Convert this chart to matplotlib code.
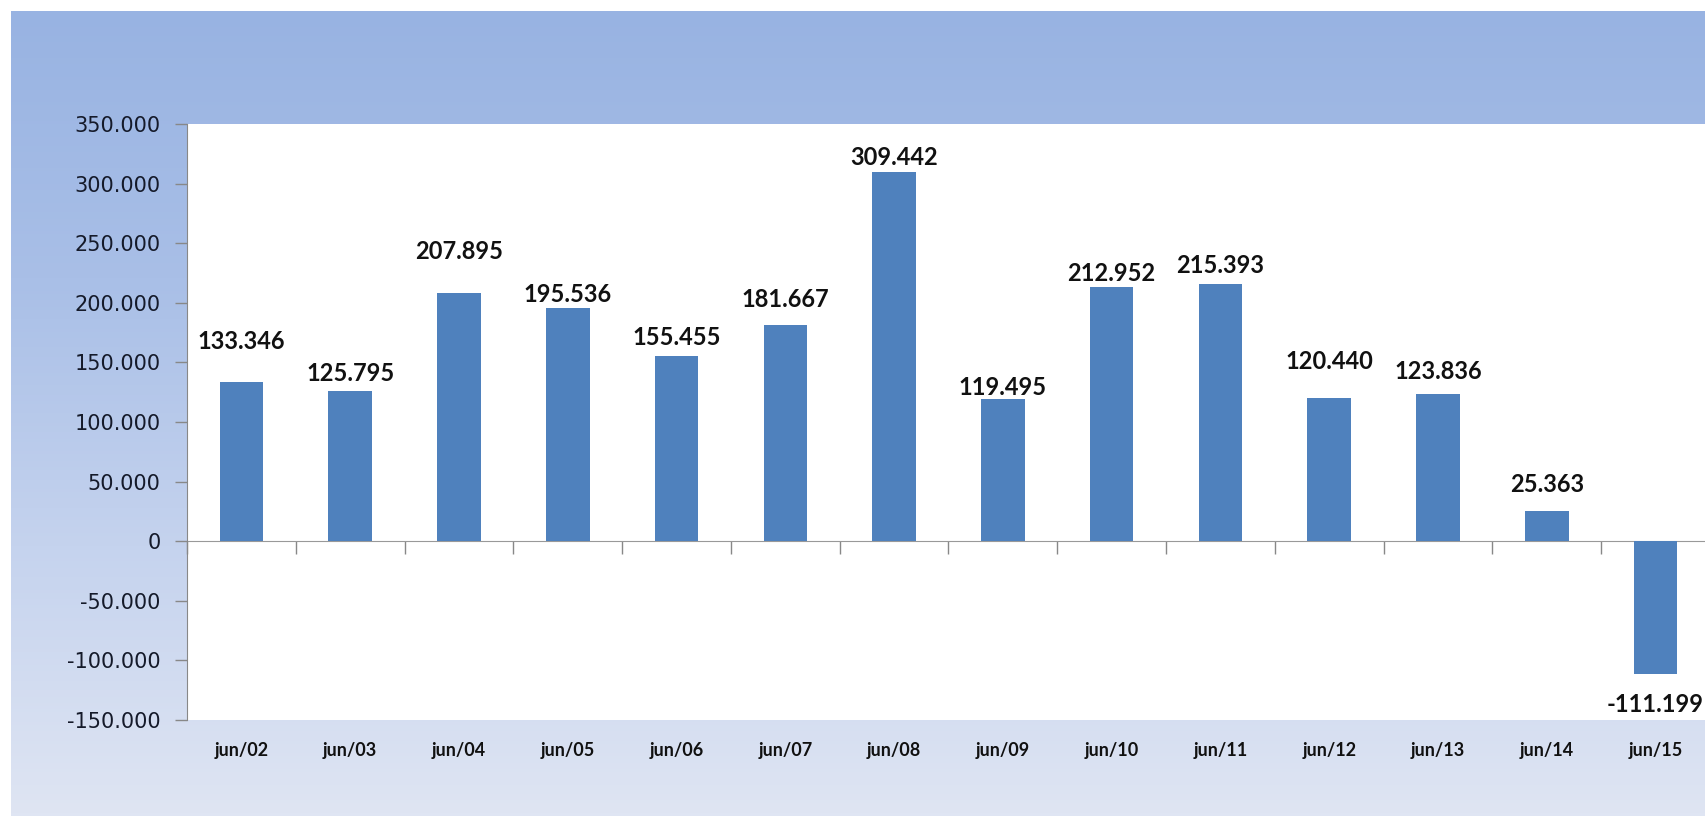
import numpy as np
import matplotlib
matplotlib.use('Agg')
import matplotlib.pyplot as plt
from matplotlib.colors import LinearSegmentedColormap
from matplotlib.ticker import FuncFormatter

# Data
months = ['jun/02', 'jun/03', 'jun/04', 'jun/05', 'jun/06', 'jun/07', 'jun/08',
          'jun/09', 'jun/10', 'jun/11', 'jun/12', 'jun/13', 'jun/14', 'jun/15']
values = [133346, 125795, 207895, 195536, 155455, 181667, 309442,
          119495, 212952, 215393, 120440, 123836, 25363, -111199]
labels = ['133.346', '125.795', '207.895', '195.536', '155.455', '181.667', '309.442',
          '119.495', '212.952', '215.393', '120.440', '123.836', '25.363', '-111.199']
# manual label offsets (points) as placed in the original
label_offsets = [29, 13, 30, 10, 13, 18, 11, 8, 10, 14, 26, 16, 19, -22]

fig = plt.figure(figsize=(17.06, 8.16), dpi=100)
fig.patch.set_facecolor('white')

# gradient background panel
bg = fig.add_axes([11 / 1706, 0, 1 - 11 / 1706, 1 - 11 / 816])
cmap = LinearSegmentedColormap.from_list('bg', ['#98b3e2', '#a9bfe7', '#c5d3ee', '#dfe5f3'])
bg.imshow(np.linspace(0, 1, 256).reshape(-1, 1), aspect='auto', cmap=cmap,
          extent=[0, 1, 0, 1], origin='upper')
bg.axis('off')

ax = fig.add_axes([187 / 1706, 96 / 816, 1523 / 1706, 596 / 816])
ax.set_facecolor('white')

x = np.arange(len(months))
ax.bar(x, values, width=0.4, color='#4f81bd', zorder=3)

for i, (v, lab) in enumerate(zip(values, labels)):
    ax.annotate(lab, (x[i], v), xytext=(0, label_offsets[i]), textcoords='offset points',
                ha='center', va='center', fontsize=17, fontweight='bold',
                family='Lato', color='#111111', zorder=4)

ax.set_xlim(-0.5, len(months) - 0.5)
ax.set_ylim(-150000, 350000)
ax.set_yticks(np.arange(-150000, 350001, 50000))
ax.yaxis.set_major_formatter(FuncFormatter(lambda v, p: f'{v:,.0f}'.replace(',', '.')))
ax.tick_params(axis='y', length=9, width=1, color='#888888', pad=10,
               labelsize=15, labelcolor='#151a2a')

ax.set_xticks(x)
ax.set_xticklabels(months, fontsize=13, fontweight='bold', family='Lato', color='#111111')
ax.tick_params(axis='x', length=0, pad=16)

for s in ['top', 'right', 'bottom']:
    ax.spines[s].set_visible(False)
ax.spines['left'].set_color('#888888')

# category axis crossing at zero with tick marks between categories
zero_pos = (0 - ax.get_ylim()[0]) / (ax.get_ylim()[1] - ax.get_ylim()[0])
sec = ax.secondary_xaxis(zero_pos)
sec.set_xticks(np.arange(-0.5, len(months), 1.0))
sec.set_xticklabels([])
sec.tick_params(length=9, width=1, color='#888888', direction='out')
sec.spines['bottom'].set_color('#999999')

plt.savefig('out.png', dpi=100, facecolor='white')
